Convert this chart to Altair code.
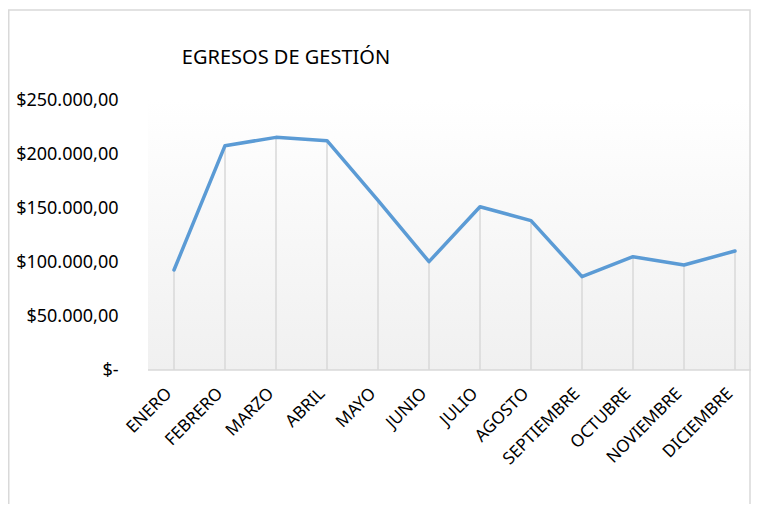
import altair as alt
import pandas as pd

months = ["ENERO", "FEBRERO", "MARZO", "ABRIL", "MAYO", "JUNIO", "JULIO",
          "AGOSTO", "SEPTIEMBRE", "OCTUBRE", "NOVIEMBRE", "DICIEMBRE"]
values = [92600, 207700, 215400, 212300, 157000, 100300, 151200,
          138300, 86400, 104900, 97200, 110200]
y_ticks = [0, 50000, 100000, 150000, 200000, 250000]
title_text = "EGRESOS DE GESTIÓN"

PAD_L = 140
W, H = 603, 270
FONT = "Noto Sans"

df = pd.DataFrame({"mes": months, "valor": values})

xscale = alt.Scale(type="point", domain=months, range=[26, 587], padding=0)
yscale = alt.Scale(domain=[0, 250000], nice=False)

one = pd.DataFrame({"a": [0]})

bg = alt.Chart(one).mark_rect(
    color=alt.LinearGradient(
        gradient="linear",
        stops=[alt.GradientStop(color="#ffffff", offset=0),
               alt.GradientStop(color="#f0f0f0", offset=1)],
        x1=0, x2=0, y1=0, y2=1,
    )
).encode(x=alt.value(0), x2=alt.value(W), y=alt.value(0), y2=alt.value(H))

border = alt.Chart(one).mark_rect(
    fill=None, stroke="#d9d9d9", strokeWidth=1.5
).encode(x=alt.value(-PAD_L + 0.75), x2=alt.value(W - 1), y=alt.value(-90), y2=alt.value(H + 200))

baseline = alt.Chart(one).mark_rule(color="#d9d9d9", strokeWidth=1.5).encode(
    x=alt.value(0), x2=alt.value(W), y=alt.value(H)
)

drops = alt.Chart(df).mark_rule(color="#d9d9d9", strokeWidth=1.5).encode(
    x=alt.X("mes:N", scale=xscale, sort=months),
    y=alt.Y("valor:Q", scale=yscale),
    y2=alt.value(H),
)

line = alt.Chart(df).mark_line(color="#5b9bd5", strokeWidth=3.5, strokeCap="round", strokeJoin="round").encode(
    x=alt.X("mes:N", scale=xscale, sort=months,
            axis=alt.Axis(title=None, labelAngle=-45, labelAlign="right", labelBaseline="top",
                          labelPadding=15, labelOffset=-11, ticks=False, domain=False,
                          labelFont=FONT, labelFontSize=17, labelColor="#000000")),
    y=alt.Y("valor:Q", scale=yscale,
            axis=alt.Axis(title=None, values=y_ticks, grid=False, domain=False, ticks=False,
                          labelPadding=30, labelFont=FONT, labelFontSize=18, labelColor="#000000",
                          labelExpr="datum.value == 0 ? '$-' : '$' + replace(format(datum.value, ','), ',', '.') + ',00'")),
)

title = alt.Chart(pd.DataFrame({"t": [title_text]})).mark_text(
    font=FONT, fontSize=20, color="#000000", align="center", baseline="middle"
).encode(text="t:N", x=alt.value(138), y=alt.value(-42))

chart = alt.layer(bg, border, baseline, drops, line, title).properties(
    width=W, height=H,
    autosize=alt.AutoSizeParams(type="none"),
    padding={"left": PAD_L, "top": 92, "right": 0, "bottom": 134},
).configure_view(stroke=None)

chart.save("out.html", embed_options={"renderer": "svg", "actions": False})
